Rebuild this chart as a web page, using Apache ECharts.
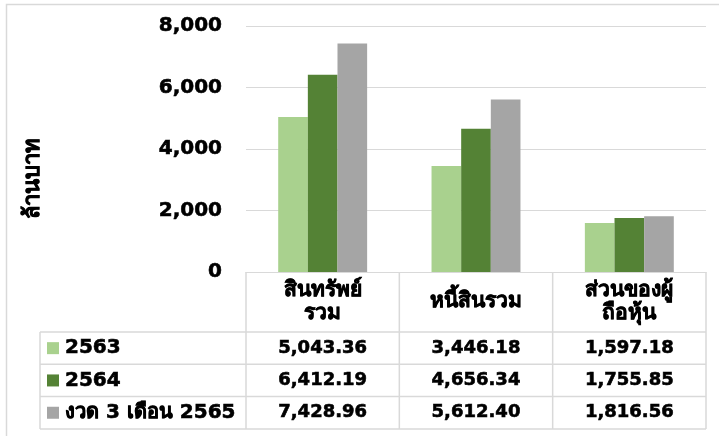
<!DOCTYPE html>
<html>
<head>
<meta charset="utf-8">
<script src="https://cdn.jsdelivr.net/npm/echarts@6/dist/echarts.min.js"></script>
<style>
  html, body { margin: 0; padding: 0; background: #fff; }
  #chart { width: 719px; height: 436px; }
</style>
</head>
<body>
<div id="chart"></div>
<script>
// data
const categories = ['สินทรัพย์\nรวม', 'หนี้สินรวม', 'ส่วนของผู้\nถือหุ้น'];
const seriesNames = ['2563', '2564', 'งวด 3 เดือน 2565'];
const values2563 = [5043.36, 3446.18, 1597.18];
const values2564 = [6412.19, 4656.34, 1755.85];
const values2565 = [7428.96, 5612.40, 1816.56];
const yTicks = [0, 2000, 4000, 6000, 8000];
const yTitle = 'ล้านบาท';

const colors = ['#A9D18E', '#548235', '#A5A5A5'];
const FONT = 'Tahoma, "DejaVu Sans", sans-serif';
const LINE = '#D9D9D9';
// a thin outline makes the bold text as heavy as Tahoma Bold
const heavy = { textBorderColor: '#000', textBorderWidth: 0.6 };
const heavyG = { stroke: '#000', lineWidth: 0.6 };

const allValues = [values2563, values2564, values2565];
const fmt = v => v.toLocaleString('en-US', { minimumFractionDigits: 2, maximumFractionDigits: 2 });

const myEchart = echarts.init(document.getElementById('chart'));

const option = {
  animation: false,
  color: colors,
  grid: { left: 246, right: 13, top: 26, bottom: 164, containLabel: false },
  xAxis: {
    type: 'category',
    data: categories,
    axisLine: { lineStyle: { color: LINE, width: 1 } },
    axisTick: { show: false },
    axisLabel: Object.assign({
      margin: 30,
      verticalAlign: 'middle',
      lineHeight: 23,
      fontFamily: FONT, fontSize: 21, fontWeight: 'bold', color: '#000'
    }, heavy)
  },
  yAxis: {
    type: 'value',
    min: yTicks[0],
    max: yTicks[yTicks.length - 1],
    interval: yTicks[1] - yTicks[0],
    axisLine: { show: false },
    axisTick: { show: false },
    splitLine: { lineStyle: { color: LINE, width: 1 } },
    axisLabel: Object.assign({
      margin: 24,
      fontFamily: FONT, fontSize: 20, fontWeight: 'bold', color: '#000',
      formatter: v => v.toLocaleString('en-US')
    }, heavy)
  },
  series: seriesNames.map((name, i) => ({
    name,
    type: 'bar',
    data: allValues[i],
    barGap: '0%',
    barCategoryGap: '42%'
  }))
};
myEchart.setOption(option);

// data table under the axis, columns follow the category bands
const x0 = myEchart.convertToPixel({ xAxisIndex: 0 }, 0);
const x1 = myEchart.convertToPixel({ xAxisIndex: 0 }, 1);
const band = x1 - x0;
const axisY = myEchart.convertToPixel({ yAxisIndex: 0 }, 0);
const colEdges = categories.map((c, i) => x0 - band / 2 + i * band).concat([x0 - band / 2 + categories.length * band]);
const tableLeft = 40;
const headerBottom = 332;
const rowH = 32.3;
const rowTops = seriesNames.map((s, i) => headerBottom + i * rowH);
const tableBottom = headerBottom + seriesNames.length * rowH;

const graphic = [];
// outer border
graphic.push({ type: 'rect', shape: { x: 6.5, y: 4.5, width: 730, height: 450 }, style: { fill: 'none', stroke: LINE, lineWidth: 1.5 }, silent: true });
// y axis title
graphic.push({ type: 'text', x: 33, y: 178, rotation: Math.PI / 2,
  style: Object.assign({ text: yTitle, fontFamily: FONT, fontSize: 22, fontWeight: 'bold', fill: '#000', align: 'center', verticalAlign: 'middle' }, heavyG) });
// vertical column lines
colEdges.forEach(x => {
  graphic.push({ type: 'line', shape: { x1: x, y1: axisY, x2: x, y2: tableBottom }, style: { stroke: LINE, lineWidth: 1.5 } });
});
graphic.push({ type: 'line', shape: { x1: tableLeft, y1: headerBottom, x2: tableLeft, y2: tableBottom }, style: { stroke: LINE, lineWidth: 1.5 } });
// horizontal row lines
rowTops.concat([tableBottom]).forEach(y => {
  graphic.push({ type: 'line', shape: { x1: tableLeft, y1: y, x2: colEdges[colEdges.length - 1], y2: y }, style: { stroke: LINE, lineWidth: 1.5 } });
});
// rows: legend key, name, values
seriesNames.forEach((name, i) => {
  const cy = rowTops[i] + rowH / 2;
  graphic.push({ type: 'rect', shape: { x: 47, y: cy - 6, width: 12, height: 12 }, style: { fill: colors[i] } });
  graphic.push({ type: 'text', x: 65, y: cy, style: Object.assign({ text: name, fontFamily: FONT, fontSize: 20, fontWeight: 'bold', fill: '#000', verticalAlign: 'middle' }, heavyG) });
  allValues[i].forEach((v, j) => {
    graphic.push({ type: 'text', x: x0 + j * band, y: cy, style: Object.assign({ text: fmt(v), fontFamily: FONT, fontSize: 18, fontWeight: 'bold', fill: '#000', align: 'center', verticalAlign: 'middle' }, heavyG) });
  });
});
myEchart.setOption({ graphic });
</script>
</body>
</html>
